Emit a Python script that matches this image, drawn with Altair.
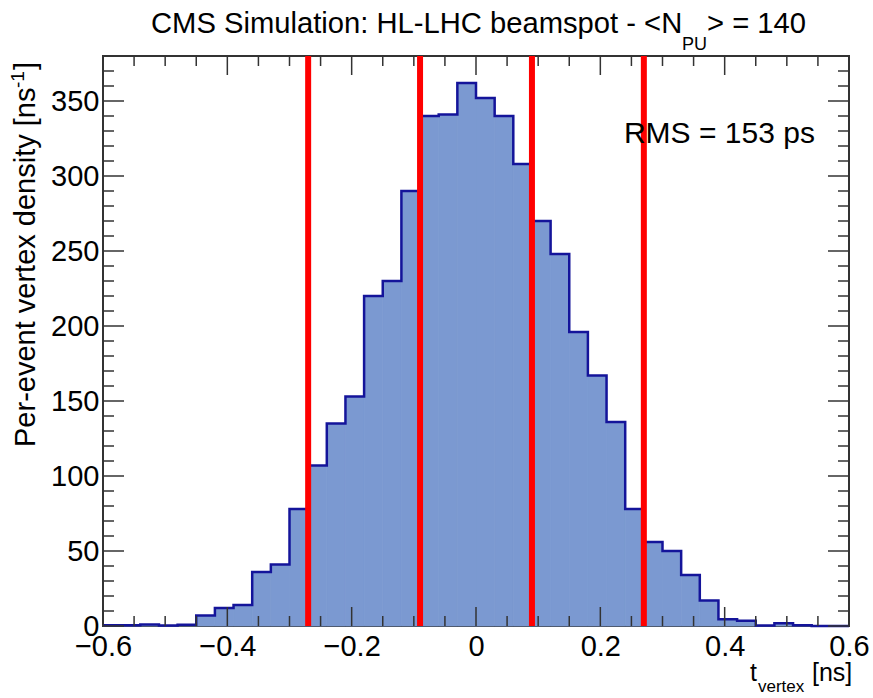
import altair as alt
import pandas as pd

# ---- data ----
bin_lo = [round(-0.6 + 0.03 * i, 2) for i in range(40)]
counts = [0.5, 0.5, 1.0, 0.3, 0.8, 7, 12, 14, 36, 41,
          78, 107, 135, 153, 220, 230, 290, 340, 341, 362,
          352, 340, 308, 270, 248, 196, 167, 136, 78, 56,
          50, 34, 17, 4.5, 3.5, 0.3, 1.8, 0.5, 0.0, 0.0]
red_lines = [-0.27, -0.09, 0.09, 0.27]
x_major = [-0.6, -0.4, -0.2, 0.0, 0.2, 0.4, 0.6]
x_minor = [-0.55, -0.5, -0.45, -0.35, -0.3, -0.25, -0.15, -0.1, -0.05,
           0.05, 0.1, 0.15, 0.25, 0.3, 0.35, 0.45, 0.5, 0.55]
y_major = [0, 50, 100, 150, 200, 250, 300, 350]
y_minor = [v for v in range(0, 381, 10) if v % 50 != 0]

title_main = "CMS Simulation: HL-LHC beamspot - <N"
title_sub = "PU"
title_end = "> = 140"
rms_text = "RMS = 153 ps"
ytitle_main = "Per-event vertex density [ns"
ytitle_sup = "-1"
ytitle_end = "]"
xtitle_main = "t"
xtitle_sub = "vertex"
xtitle_end = "[ns]"

# ---- styles ----
FONT = "Liberation Sans"
FILL = "#7b99d1"
LINE = "#14149a"
RED = "#ff0000"
TICK = "#333333"
W, H = 746, 570
L0, T0 = 103, 56  # plot origin in the page

xs = alt.Scale(domain=[-0.6, 0.6], nice=False, zero=False)
ys = alt.Scale(domain=[0, 380], nice=False, zero=True)

hist = pd.DataFrame({"lo": bin_lo,
                     "hi": [round(v + 0.03, 2) for v in bin_lo],
                     "count": counts})
step = pd.DataFrame({"edge": bin_lo + [0.6], "count": counts + [counts[-1]]})

xaxis = alt.Axis(values=x_major, format=".1~f", labelFontSize=29, labelFont=FONT,
                 labelColor="black", ticks=False, domain=False, grid=False,
                 labelPadding=6, labelFlush=False, labelOverlap=False, title=None)
yaxis = alt.Axis(values=y_major, format="d", labelFontSize=29, labelFont=FONT,
                 labelColor="black", ticks=False, domain=False, grid=False,
                 labelPadding=4, labelOverlap=False, title=None)


def X(field):
    return alt.X(field, scale=xs, axis=xaxis)


def Y(field):
    return alt.Y(field, scale=ys, axis=yaxis)


bars = alt.Chart(hist).mark_rect(color=FILL, stroke=FILL, strokeWidth=0.8).encode(
    x=X("lo:Q"),
    x2="hi:Q",
    y=Y("count:Q"),
    y2=alt.datum(0),
)

outline = alt.Chart(step).mark_line(interpolate="step-after", color=LINE,
                                    strokeWidth=2.5).encode(
    x=X("edge:Q"),
    y=Y("count:Q"),
)

reds = alt.Chart(pd.DataFrame({"v": red_lines})).mark_rule(
    color=RED, strokeWidth=6).encode(
    x=X("v:Q"),
    y=alt.value(0), y2=alt.value(H),
)


def xticks(vals, length):
    d = pd.DataFrame({"v": vals})
    bot = alt.Chart(d).mark_rule(color=TICK, strokeWidth=1.5).encode(
        x=X("v:Q"), y=alt.value(H), y2=alt.value(H - length))
    top = alt.Chart(d).mark_rule(color=TICK, strokeWidth=1.5).encode(
        x=X("v:Q"), y=alt.value(0), y2=alt.value(length))
    return [bot, top]


def yticks(vals, length):
    d = pd.DataFrame({"v": vals})
    left = alt.Chart(d).mark_rule(color=TICK, strokeWidth=1.5).encode(
        y=Y("v:Q"), x=alt.value(0), x2=alt.value(length))
    right = alt.Chart(d).mark_rule(color=TICK, strokeWidth=1.5).encode(
        y=Y("v:Q"), x=alt.value(W), x2=alt.value(W - length))
    return [left, right]


one = pd.DataFrame({"a": [0]})


def label(text, px, py, size, angle=0):
    kw = dict(text=text, align="left", baseline="alphabetic", fontSize=size,
              font=FONT, color="black")
    if angle:
        kw["angle"] = angle
    return alt.Chart(one).mark_text(**kw).encode(
        x=alt.value(px - L0), y=alt.value(py - T0))


rms = alt.Chart(pd.DataFrame({"x": [0.238], "y": [322], "t": [rms_text]})).mark_text(
    align="left", baseline="alphabetic", fontSize=30, font=FONT, color="black").encode(
    x=X("x:Q"), y=Y("y:Q"), text="t:N")

texts = [
    label(title_main, 151, 33, 29.2),
    label(title_sub, 682, 50, 18),
    label(title_end, 707, 33, 29.2),
    label(ytitle_main, 35, 447, 29, 270),
    label(ytitle_sup, 24, 88, 19, 270),
    label(ytitle_end, 35, 70, 29, 270),
    label(xtitle_main, 750, 681, 25),
    label(xtitle_sub, 758, 692, 17),
    label(xtitle_end, 812, 681, 25),
]

layers = [bars, outline, reds]
layers += xticks(x_major, 19) + xticks(x_minor, 10)
layers += yticks(y_major, 21) + yticks(y_minor, 11)
layers += [rms] + texts

chart = alt.layer(*layers).properties(
    width=W, height=H,
    autosize=alt.AutoSizeParams(type="none"),
    padding={"left": L0, "top": T0, "right": 873 - L0 - W, "bottom": 698 - T0 - H},
    background="white",
).configure_view(stroke="#333333", strokeWidth=2)

chart.save("out.html", embed_options={"renderer": "svg", "actions": False})
